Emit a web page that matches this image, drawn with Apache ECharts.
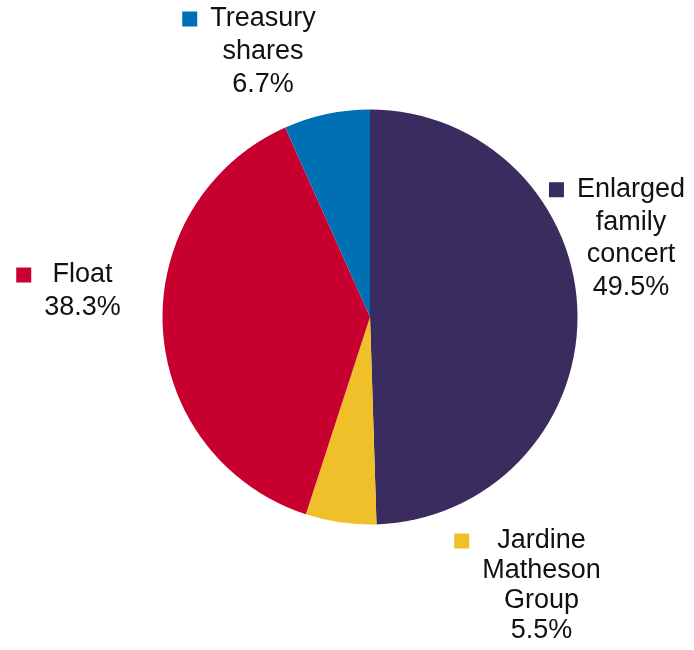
<!DOCTYPE html>
<html>
<head>
<meta charset="utf-8">
<script src="https://cdn.jsdelivr.net/npm/echarts@6/dist/echarts.min.js"></script>
<style>html,body{margin:0;padding:0;background:#fff}#c{width:694px;height:650px}</style>
</head>
<body>
<div id="c"></div>
<script>
var categories = ['Enlarged\nfamily\nconcert', 'Jardine\nMatheson\nGroup', 'Float', 'Treasury\nshares'];
var values = [49.5, 5.5, 38.3, 6.7];
var colors = ['#3a2c5f', '#f0c02a', '#c8002f', '#0070b4'];
// label block centres (layout constants)
var labelX = [631, 541.5, 82.5, 263];
var labelY = [238.5, 586, 291.5, 52];
var lineHeights = [32.5, 30, 33, 33];

var MARK = 15, GAP = 13;

function makeLabel(i) {
  var lines = (categories[i] + '\n' + values[i].toFixed(1) + '%').split('\n');
  var out = lines.map(function (ln, k) {
    var left = k === 0 ? '{m| }{g| }' : '{s| }';
    return left + '{t|' + ln + '}{p| }';
  }).join('\n');
  var lh = lineHeights[i];
  return {
    show: true,
    position: 'outside',
    formatter: out,
    rich: {
      m: { align: 'left', width: MARK, height: MARK, backgroundColor: colors[i], lineHeight: lh },
      g: { align: 'left', width: GAP, lineHeight: lh },
      s: { align: 'left', width: MARK + GAP, lineHeight: lh },
      t: { align: 'center', fontSize: 27, fontFamily: 'Liberation Sans, Arial, sans-serif', color: '#111', lineHeight: lh },
      p: { align: 'right', width: MARK + GAP, lineHeight: lh }
    }
  };
}

var data = values.map(function (v, i) {
  return { name: categories[i], value: v, itemStyle: { color: colors[i] }, label: makeLabel(i) };
});

var chart = echarts.init(document.getElementById('c'), null, { renderer: 'canvas' });
chart.setOption({
  animation: false,
  backgroundColor: '#fff',
  series: [{
    type: 'pie',
    center: [370, 317],
    radius: [0, 207.5],
    startAngle: 90,
    clockwise: true,
    avoidLabelOverlap: false,
    itemStyle: { borderWidth: 0 },
    labelLine: { show: false },
    labelLayout: function (p) {
      return { x: labelX[p.dataIndex], y: labelY[p.dataIndex], align: 'center', verticalAlign: 'middle' };
    },
    data: data
  }]
});
</script>
</body>
</html>
